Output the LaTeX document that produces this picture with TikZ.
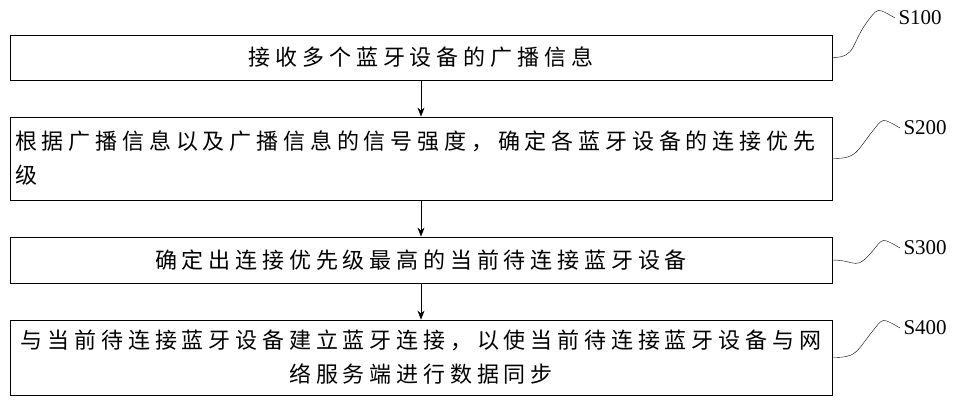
\documentclass[tikz,border=0pt]{standalone}
\usepackage{fontspec}
\setmainfont{Liberation Serif}
\newfontfamily\cjk[LetterSpace=22]{Noto Sans CJK SC}
\usetikzlibrary{positioning}
\tikzset{
  stepbox/.style={draw,thick,minimum width=822pt,inner sep=4pt,font=\cjk\fontsize{22}{34}\selectfont},
  steplabel/.style={font=\fontsize{21}{22}\selectfont,anchor=west},
  flow/.style={-{Stealth[length=9pt,width=7pt]},thick}
}
\usetikzlibrary{arrows.meta}
\begin{document}
\begin{tikzpicture}[x=1pt,y=-1pt]
\useasboundingbox (0,0) rectangle (979,400);
% boxes
\node[stepbox,minimum height=45pt] (b1) at (421,57.5) {接收多个蓝牙设备的广播信息};
\node[stepbox,minimum height=83pt,align=left,text width=812pt] (b2) at (421,158.5) {根据广播信息以及广播信息的信号强度，确定各蓝牙设备的连接优先\\级};
\node[stepbox,minimum height=46pt] (b3) at (421,260) {确定出连接优先级最高的当前待连接蓝牙设备};
\node[stepbox,minimum height=75pt,align=center,text width=812pt] (b4) at (421,357.5) {与当前待连接蓝牙设备建立蓝牙连接，以使当前待连接蓝牙设备与网\\络服务端进行数据同步};
% arrows
\draw[flow] (b1) -- (b2);
\draw[flow] (b2) -- (b3);
\draw[flow] (b3) -- (b4);
% labels
\node[steplabel] (s1) at (895,18) {S100};
\node[steplabel] (s2) at (900,128) {S200};
\node[steplabel] (s3) at (900,248) {S300};
\node[steplabel] (s4) at (900,328) {S400};
\foreach \b/\s in {b1/s1,b2/s2,b3/s3,b4/s4}
  \draw (\b.east) .. controls +(25,0) and +(-20,25) .. ([xshift=-25pt]\s.west) .. controls +(8,-10) .. (\s.west);
\end{tikzpicture}
\end{document}
